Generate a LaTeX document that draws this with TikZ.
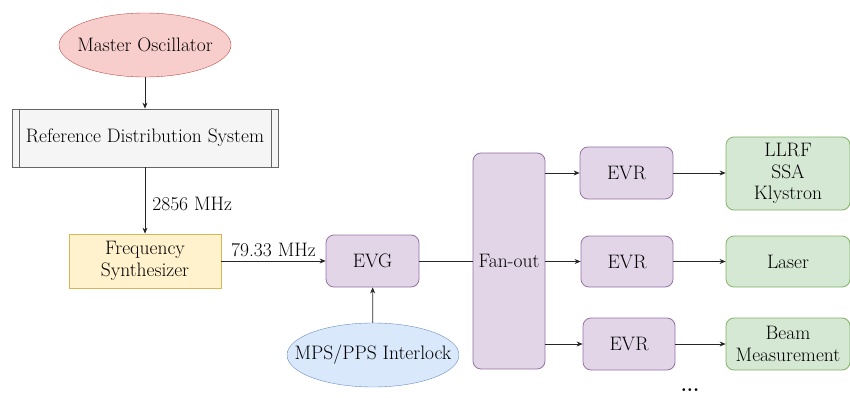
\documentclass[tikz,border=0pt]{standalone}
\usetikzlibrary{shapes.geometric,arrows.meta}
\definecolor{redF}{HTML}{F8CECC}\definecolor{redD}{HTML}{B85450}
\definecolor{grayF}{HTML}{F5F5F5}\definecolor{grayD}{HTML}{666666}
\definecolor{yelF}{HTML}{FFF2CC}\definecolor{yelD}{HTML}{D6B656}
\definecolor{purF}{HTML}{E1D5E7}\definecolor{purD}{HTML}{9673A6}
\definecolor{bluF}{HTML}{DAE8FC}\definecolor{bluD}{HTML}{6C8EBF}
\definecolor{grnF}{HTML}{D5E8D4}\definecolor{grnD}{HTML}{82B366}
\begin{document}
\begin{tikzpicture}[x=1pt,y=-1pt,
  every node/.style={font=\rmfamily\fontsize{19.5}{21.5}\selectfont, inner sep=0pt, align=center},
  ell/.style={ellipse, draw, minimum width=172pt, minimum height=64pt, inner sep=0pt},
  box/.style={rectangle, draw, line width=0.8pt},
  rbox/.style={rectangle, rounded corners=8pt, draw, line width=0.8pt},
  conn/.style={draw=black!85, line width=0.7pt},
  arr/.style={conn, -{Stealth[length=6pt,width=5pt]}}]
\useasboundingbox (0,0) rectangle (850,398);
\node[ell, fill=redF, draw=redD] (mo) at (145,45) {};
\node at (mo) {Master Oscillator};
\node[box, fill=grayF, draw=grayD, minimum width=266pt, minimum height=58pt] (rds) at (145,138) {Reference Distribution System};
\draw[grayD, line width=0.8pt] (19,109) -- (19,167) (271,109) -- (271,167);
\node[box, fill=yelF, draw=yelD, minimum width=152pt, minimum height=54pt] (fs) at (145,261) {Frequency\\Synthesizer};
\node[rbox, fill=purF, draw=purD, minimum width=93pt, minimum height=52pt] (evg) at (372.5,261) {EVG};
\node[ell, fill=bluF, draw=bluD] (mps) at (373,355) {};
\node at (mps) {MPS/PPS Interlock};
\node[rbox, fill=purF, draw=purD, minimum width=72pt, minimum height=216pt] (fan) at (509,261) {Fan-out};
\node[rbox, fill=purF, draw=purD, minimum width=93pt, minimum height=52pt] (evr1) at (626.5,173) {EVR};
\node[rbox, fill=purF, draw=purD, minimum width=92pt, minimum height=51pt] (evr2) at (627,261.5) {EVR};
\node[rbox, fill=purF, draw=purD, minimum width=92pt, minimum height=52pt] (evr3) at (629,344) {EVR};
\node[rbox, fill=grnF, draw=grnD, minimum width=124pt, minimum height=73pt] (llrf) at (788,173.5) {LLRF\\SSA\\Klystron};
\node[rbox, fill=grnF, draw=grnD, minimum width=124pt, minimum height=51pt] (laser) at (788,261.5) {Laser};
\node[rbox, fill=grnF, draw=grnD, minimum width=124pt, minimum height=52pt] (beam) at (788,344) {Beam\\Measurement};
\node[font=\rmfamily\bfseries\fontsize{19.5}{21.5}\selectfont] (dots) at (690,390) {...};
\draw[arr] (mo) -- (rds);
\draw[arr] (rds) -- node[right=7pt, pos=0.55] (l1) {2856 MHz} (fs);
\draw[arr] (fs) -- node[above=4pt] (l2) {79.33 MHz} (evg);
\draw[arr] (mps) -- (evg);
\draw[conn] (evg) -- (fan);
\draw[arr] (fan.east |- evr1.west) -- (evr1);
\draw[arr] (fan.east |- evr2.west) -- (evr2);
\draw[arr] (fan.east |- evr3.west) -- (evr3);
\draw[arr] (evr1) -- (evr1 -| llrf.west);
\draw[arr] (evr2) -- (evr2 -| laser.west);
\draw[arr] (evr3) -- (evr3 -| beam.west);
\end{tikzpicture}
\end{document}
